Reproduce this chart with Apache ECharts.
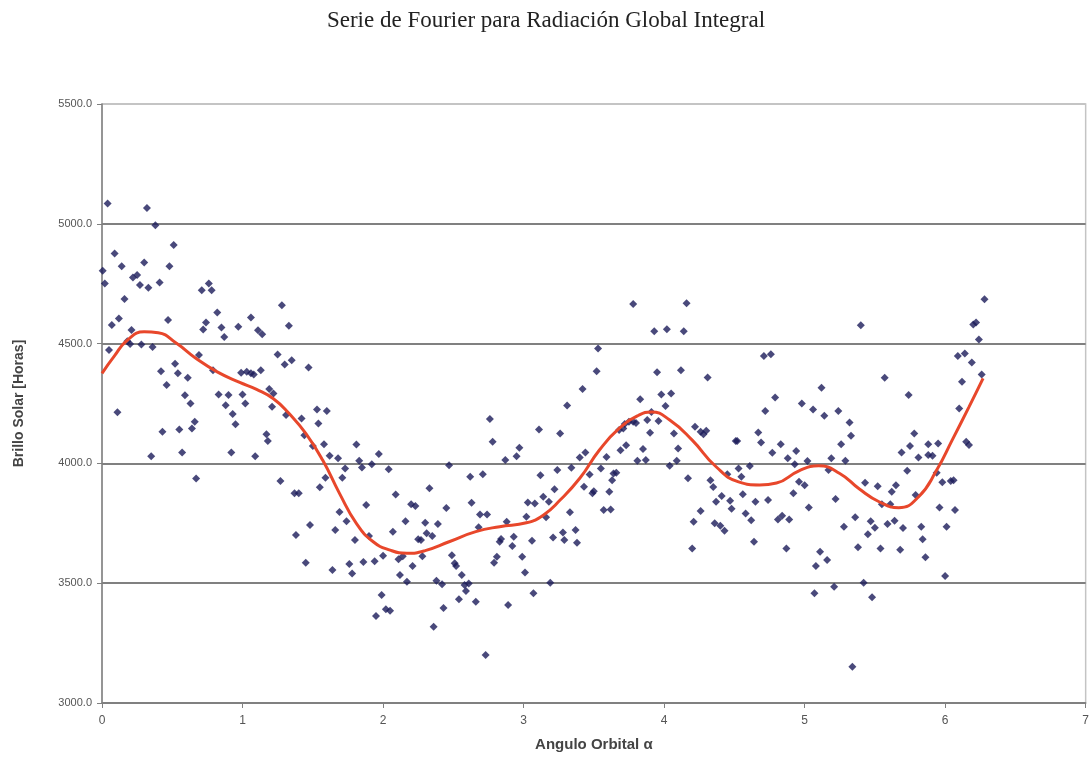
<!DOCTYPE html>
<html>
<head>
<meta charset="utf-8">
<script src="https://cdn.jsdelivr.net/npm/echarts@6/dist/echarts.min.js"></script>
<style>html,body{margin:0;padding:0;background:#fff;}#c{width:1092px;height:765px;}</style>
</head>
<body>
<div id="c"></div>
<script>
const titleText = 'Serie de Fourier para Radiación Global Integral';
const xName = 'Angulo Orbital α';
const yName = 'Brillo Solar [Horas]';

const obsA = [[0.04,5085],[0.32,5066],[0.38,4994],[0.51,4911],[0.09,4876],[0.005,4804],[0.02,4751],[0.14,4823],[0.30,4839],[0.48,4823],[0.22,4776],[0.25,4786],[0.27,4745],[0.33,4733],[0.41,4755],[0.16,4686],[0.12,4605],[0.07,4578],[0.21,4557],[0.18,4510],[0.20,4498],[0.28,4496],[0.36,4486],[0.05,4473],[0.47,4598],[0.11,4213],[0.42,4385],[0.46,4327],[0.52,4416],[0.54,4376],[0.61,4357],[0.59,4284],[0.63,4250],[0.43,4132],[0.55,4142],[0.64,4146],[0.66,4174],[0.35,4030],[0.57,4046],[0.71,4723],[0.76,4751],[0.78,4723],[0.82,4630],[0.74,4588],[0.72,4559],[0.85,4567],[0.87,4528],[0.97,4570],[1.06,4609],[1.11,4556],[1.14,4539],[1.28,4660],[1.33,4574],[0.69,4452],[0.79,4389],[0.99,4378],[1.03,4382],[1.06,4376],[1.08,4371],[1.13,4389],[0.83,4288],[0.90,4285],[1.00,4288],[0.88,4243],[1.02,4250],[0.93,4206],[0.95,4163],[1.19,4311],[1.22,4292],[1.21,4236],[1.25,4455],[1.30,4413],[1.17,4122],[1.18,4093],[1.31,4202],[0.92,4046],[1.09,4030],[0.67,3937],[1.27,3927]];
const obsB = [[1.35,4431],[1.47,4400],[1.42,4187],[1.53,4225],[1.60,4219],[1.54,4167],[1.44,4118],[1.50,4073],[1.58,4080],[1.62,4032],[1.68,4021],[1.81,4079],[1.97,4039],[1.83,4011],[1.85,3983],[1.92,3996],[2.04,3976],[1.73,3979],[1.71,3940],[1.59,3940],[1.55,3900],[1.37,3875],[1.40,3875],[2.09,3870],[2.33,3896],[1.88,3826],[1.69,3797],[1.74,3759],[1.48,3743],[1.66,3722],[1.38,3701],[1.80,3680],[1.90,3697],[2.07,3715],[2.16,3759],[2.20,3829],[2.23,3822],[2.30,3752],[2.31,3708],[2.35,3697],[2.25,3683],[2.27,3680],[2.39,3747]];
const obsC = [[1.45,3585],[1.64,3555],[1.76,3580],[1.78,3541],[1.86,3588],[1.94,3592],[2.00,3615],[2.11,3600],[2.14,3613],[2.12,3534],[2.21,3572],[2.17,3506],[2.28,3613],[2.49,3617],[2.51,3583],[2.52,3572],[2.56,3534],[2.38,3510],[2.42,3496],[2.58,3492],[2.61,3499],[2.59,3467],[2.54,3433],[2.66,3423],[2.43,3397],[2.36,3318],[1.99,3451],[2.02,3391],[2.05,3385],[1.95,3363]];
const obsD = [[3.52,4385],[3.42,4310],[3.31,4242],[2.76,4185],[2.78,4090],[3.11,4142],[3.26,4125],[2.97,4065],[2.95,4030],[2.87,4014],[2.47,3992],[2.62,3944],[2.71,3955],[3.12,3951],[3.24,3972],[3.34,3982],[3.40,4025],[3.44,4046],[3.47,3954],[3.43,3903],[3.49,3875],[3.50,3884],[3.14,3861],[3.18,3840],[3.22,3892],[3.03,3837],[3.08,3833],[3.02,3777],[3.16,3775],[3.33,3796],[3.28,3712],[3.37,3722],[3.21,3691],[3.29,3680],[3.38,3669],[2.63,3836],[2.45,3814],[2.69,3787],[2.74,3787],[2.68,3733],[2.88,3756],[2.73,3200],[2.83,3673],[2.84,3684],[2.93,3694],[2.92,3655],[2.81,3610],[2.79,3585],[2.99,3610],[3.01,3545],[3.06,3677],[3.07,3458],[3.19,3502],[2.89,3409]];
const obsE = [[3.78,4665],[4.16,4668],[3.93,4552],[4.02,4560],[4.14,4552],[3.53,4480],[3.95,4380],[4.12,4389],[4.31,4359],[3.83,4268],[3.98,4288],[4.05,4292],[4.01,4240],[3.91,4215],[3.88,4181],[3.96,4177],[3.75,4174],[3.78,4174],[3.80,4169],[3.72,4164],[3.68,4139],[3.71,4146],[3.90,4128],[4.07,4125],[4.22,4153],[4.26,4132],[4.28,4122],[4.30,4136],[3.73,4076],[3.69,4055],[3.85,4060],[3.81,4011],[3.87,4014],[4.10,4062],[4.09,4011],[4.04,3990],[3.59,4027],[3.55,3979],[3.64,3958],[3.66,3961],[3.63,3930],[3.61,3882],[3.57,3805],[3.62,3808],[4.17,3938],[4.33,3930],[4.35,3902],[4.45,3955],[4.51,4094],[4.52,4094],[4.53,3979],[4.61,3989],[4.41,3864],[4.37,3840],[4.47,3844],[4.48,3811],[4.56,3871],[4.65,3840],[4.26,3801],[4.21,3756],[4.36,3750],[4.40,3740],[4.43,3719],[4.58,3791],[4.62,3763],[4.64,3673],[4.20,3645]];
const obsF = [[5.40,4577],[4.71,4448],[4.76,4456],[5.57,4357],[5.12,4316],[4.79,4275],[5.74,4285],[4.98,4250],[5.06,4225],[4.72,4219],[5.14,4199],[5.24,4219],[5.32,4171],[5.33,4115],[5.78,4125],[4.67,4129],[4.69,4087],[4.83,4080],[5.26,4080],[5.75,4073],[4.77,4044],[4.94,4052],[5.69,4046],[4.88,4021],[5.19,4021],[5.29,4011],[5.02,4010],[4.93,3996],[4.55,3944],[5.17,3972],[5.73,3969],[4.96,3923],[5.00,3909],[5.43,3919],[5.52,3905],[5.65,3909],[5.62,3882],[4.74,3847],[4.92,3875],[5.22,3851],[5.55,3830],[5.61,3830],[5.79,3868],[5.03,3816],[4.81,3766],[4.84,3781],[4.89,3766],[5.36,3775],[5.47,3759],[5.50,3731],[5.59,3747],[5.64,3761],[5.70,3730],[5.28,3736],[5.45,3704],[4.87,3645],[5.11,3631],[5.08,3572],[5.16,3597],[5.38,3650],[5.54,3645],[5.68,3640],[5.07,3458],[5.21,3485],[5.42,3502],[5.48,3441],[5.34,3151]];
const obsG = [[6.28,4685],[6.20,4580],[6.22,4588],[6.24,4517],[6.09,4448],[6.14,4459],[6.19,4421],[6.26,4371],[6.12,4341],[6.10,4229],[5.81,4025],[5.88,4080],[5.95,4083],[5.88,4035],[5.91,4032],[6.15,4090],[6.17,4077],[5.94,3961],[5.98,3921],[6.04,3927],[6.06,3930],[5.96,3816],[6.07,3805],[5.83,3736],[6.01,3736],[5.84,3683],[5.86,3608],[6.00,3530]];

const fourierX = [0, 0.09, 0.18, 0.3, 0.4, 0.53, 0.67, 0.82, 0.98, 1.1, 1.22, 1.33, 1.45, 1.57, 1.69, 1.81, 1.93, 2.05, 2.17, 2.3, 2.47, 2.66, 2.83, 3.02, 3.14, 3.26, 3.4, 3.54, 3.68, 3.82, 3.91, 4.04, 4.2, 4.37, 4.53, 4.68, 4.8, 4.96, 5.1, 5.25, 5.39, 5.53, 5.67, 5.81, 5.94, 6.05, 6.17, 6.27];
const fourierY = [4376, 4450, 4514, 4549, 4545, 4501, 4438, 4382, 4338, 4309, 4270, 4209, 4125, 4014, 3875, 3750, 3673, 3638, 3625, 3636, 3673, 3715, 3736, 3752, 3784, 3847, 3938, 4056, 4146, 4201, 4215, 4181, 4097, 3986, 3923, 3910, 3918, 3969, 3990, 3958, 3893, 3840, 3815, 3860, 3972, 4097, 4236, 4355];

const observed = [].concat(obsA, obsB, obsC, obsD, obsE, obsF, obsG);
const fourier = fourierX.map((x, i) => [x, fourierY[i]]);

const chart = echarts.init(document.getElementById('c'));
chart.setOption({
  animation: false,
  backgroundColor: '#ffffff',
  title: {
    text: titleText,
    left: 'center',
    top: 4,
    textStyle: { fontFamily: 'Liberation Serif', fontSize: 23, fontWeight: 'normal', color: '#222' }
  },
  grid: { left: 102, right: 5, top: 104, bottom: 62, show: true, borderColor: '#c4c4c4', borderWidth: 1.5 },
  xAxis: {
    type: 'value', min: 0, max: 7, interval: 1,
    name: xName, nameLocation: 'middle', nameGap: 34,
    nameTextStyle: { fontFamily: 'Liberation Sans', fontSize: 15, fontWeight: 'bold', color: '#444' },
    axisLine: { show: true, onZero: false, lineStyle: { color: '#808080', width: 1.5 } },
    axisTick: { show: true, length: 5, lineStyle: { color: '#808080' } },
    axisLabel: { fontFamily: 'Liberation Sans', fontSize: 12, color: '#555', margin: 12 },
    splitLine: { show: false }
  },
  yAxis: {
    type: 'value', min: 3000, max: 5500, interval: 500,
    name: yName, nameLocation: 'middle', nameGap: 76,
    nameTextStyle: { fontFamily: 'Liberation Sans', fontSize: 14, fontWeight: 'bold', color: '#444' },
    axisLine: { show: true, lineStyle: { color: '#808080', width: 1.5 } },
    axisTick: { show: true, length: 5, lineStyle: { color: '#808080' } },
    axisLabel: { fontFamily: 'Liberation Sans', fontSize: 11, color: '#555', margin: 10, formatter: v => v.toFixed(1) },
    splitLine: { show: true, lineStyle: { color: ['#808080', '#808080', '#808080', '#808080', '#808080', '#c4c4c4'], width: 2 } }
  },
  series: [
    {
      type: 'scatter', data: observed, symbol: 'diamond', symbolSize: 8,
      itemStyle: { color: '#1b1b5a' }, z: 2
    },
    {
      type: 'line', data: fourier, smooth: true, showSymbol: false, symbol: 'none',
      lineStyle: { color: '#e8472b', width: 3 }, z: 3
    }
  ]
});
</script>
</body>
</html>
